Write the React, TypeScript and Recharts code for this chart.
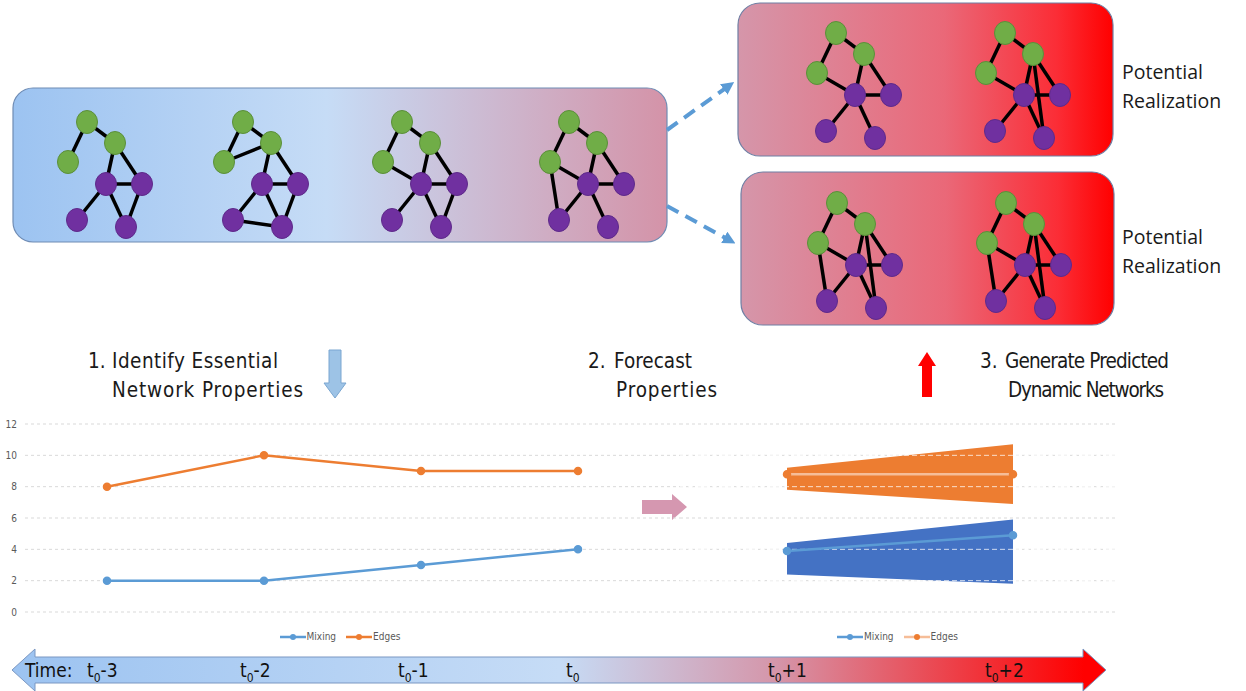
import {
  Area,
  CartesianGrid,
  ComposedChart,
  Legend,
  Line,
  LineChart,
  ReferenceLine,
  Scatter,
  ScatterChart,
  XAxis,
  YAxis,
} from 'recharts'

// observed history
const periods = ['t0-3', 't0-2', 't0-1', 't0']
const mixing = [2, 2, 3, 4]
const edges = [8, 10, 9, 9]

// forecast (t0+1, t0+2)
const forecastSteps = [0, 1]
const mixingForecast = [3.9, 4.9]
const mixingLow = [2.4, 1.8]
const mixingHigh = [4.4, 5.9]
const edgesForecast = [8.8, 8.8]
const edgesLow = [7.8, 6.9]
const edgesHigh = [9.2, 10.7]

const yTicks = [0, 2, 4, 6, 8, 10, 12]

// network drawings: node layout (g = green, p = purple) and edge lists
const nodeX = [19, 47, 0, 38, 74, 9, 58]
const nodeY = [0, 21, 40, 62, 62, 98, 105]
const nodeKind = ['g', 'g', 'g', 'p', 'p', 'p', 'p']

const edges1 = [[0, 1], [0, 2], [1, 3], [1, 4], [3, 4], [3, 5], [3, 6], [4, 6]]
const edges2 = [[0, 1], [0, 2], [2, 1], [1, 3], [1, 4], [3, 4], [3, 5], [3, 6], [4, 6], [5, 6]]
const edges3 = [[0, 1], [0, 2], [2, 3], [1, 3], [1, 4], [3, 4], [3, 5], [3, 6], [4, 6]]
const edges4 = [[0, 1], [0, 2], [2, 3], [2, 5], [1, 3], [1, 4], [3, 4], [3, 5], [3, 6]]
const edgesA = [[0, 1], [0, 2], [2, 3], [1, 3], [1, 4], [3, 4], [3, 5], [3, 6]]
const edgesB = [[0, 1], [0, 2], [2, 3], [1, 3], [1, 4], [1, 6], [3, 4], [3, 5], [3, 6]]
const edgesC = [[0, 1], [0, 2], [2, 3], [2, 5], [1, 3], [1, 4], [1, 6], [3, 4], [3, 5], [3, 6]]

const networks = [
  { left: 68, top: 122, edges: edges1 },
  { left: 224, top: 122, edges: edges2 },
  { left: 383, top: 122, edges: edges3 },
  { left: 550, top: 122, edges: edges4 },
  { left: 817, top: 33, edges: edgesA },
  { left: 986, top: 33, edges: edgesB },
  { left: 818, top: 203, edges: edgesC },
  { left: 987, top: 203, edges: edgesC },
]

const timeLabels = [
  { base: 't', sub: '0', rest: '-3', x: 87 },
  { base: 't', sub: '0', rest: '-2', x: 240 },
  { base: 't', sub: '0', rest: '-1', x: 398 },
  { base: 't', sub: '0', rest: '', x: 566 },
  { base: 't', sub: '0', rest: '+1', x: 768 },
  { base: 't', sub: '0', rest: '+2', x: 985 },
]

const BLUE = '#5b9bd5'
const ORANGE = '#ed7d31'
const LIGHT_ORANGE = '#f6bd98'
const DARK_BLUE = '#4472c4'
const TEXT_FONT = '"Liberation Sans Narrow", "DejaVu Sans Condensed", "Noto Sans", sans-serif'
const LABEL_FONT = '"Open Sans", "Noto Sans", sans-serif'

const histData = periods.map((p, i) => ({ period: p, mixing: mixing[i], edges: edges[i] }))
const fcData = forecastSteps.map((s, i) => ({
  step: s,
  mixing: mixingForecast[i],
  edges: edgesForecast[i],
  mixBand: [mixingLow[i], mixingHigh[i]],
  edgeBand: [edgesLow[i], edgesHigh[i]],
}))

function LegendItems({ items }: { items: { label: string; line: string; dot: string }[] }) {
  return (
    <div
      style={{
        display: 'flex',
        justifyContent: 'center',
        gap: 10,
        paddingTop: 19,
        fontSize: 10,
        color: '#595959',
        fontFamily: TEXT_FONT,
      }}
    >
      {items.map((it) => (
        <span key={it.label} style={{ display: 'flex', alignItems: 'center', gap: 1 }}>
          <svg width={26} height={8}>
            <line x1={0} y1={4} x2={26} y2={4} stroke={it.line} strokeWidth={2.5} />
            <circle cx={13} cy={4} r={3} fill={it.dot} />
          </svg>
          {it.label}
        </span>
      ))}
    </div>
  )
}

function Network({ left, top, edges }: { left: number; top: number; edges: number[][] }) {
  const nodes = nodeX.map((x, i) => ({ x, y: nodeY[i], kind: nodeKind[i] }))
  return (
    <div style={{ position: 'absolute', left: left - 15, top: top - 15 }}>
      <ScatterChart width={110} height={135} margin={{ top: 0, right: 0, bottom: 0, left: 0 }}>
        <XAxis type="number" dataKey="x" domain={[-15, 95]} hide />
        <YAxis type="number" dataKey="y" domain={[-15, 120]} reversed hide />
        {edges.map(([a, b], i) => (
          <Scatter
            key={i}
            data={[nodes[a], nodes[b]]}
            line={{ stroke: '#000', strokeWidth: 3.5 }}
            shape={() => <g />}
            isAnimationActive={false}
          />
        ))}
        <Scatter
          data={nodes}
          isAnimationActive={false}
          shape={(props: any) => (
            <ellipse
              cx={props.cx}
              cy={props.cy}
              rx={10.5}
              ry={11.5}
              fill={props.payload.kind === 'g' ? '#70ad47' : '#7030a0'}
              stroke={props.payload.kind === 'g' ? '#5b8f3a' : '#5e2a8a'}
              strokeWidth={1}
            />
          )}
        />
      </ScatterChart>
    </div>
  )
}

export default function App() {
  return (
    <div style={{ position: 'absolute', left: 0, top: 0, width: 1246, height: 691, background: '#fff', overflow: 'hidden' }}>
      <svg width={1246} height={691} style={{ position: 'absolute', left: 0, top: 0 }}>
        <defs>
          <linearGradient id="histGrad" x1="0" x2="1" y1="0" y2="0">
            <stop offset="0" stopColor="#9cc3f1" />
            <stop offset="0.48" stopColor="#c6dcf6" />
            <stop offset="1" stopColor="#d493a8" />
          </linearGradient>
          <linearGradient id="futGrad" x1="0" x2="1" y1="0" y2="0">
            <stop offset="0" stopColor="#d596aa" />
            <stop offset="0.55" stopColor="#ea6878" />
            <stop offset="0.85" stopColor="#fb2d36" />
            <stop offset="1" stopColor="#ff0000" />
          </linearGradient>
          <linearGradient id="timeGrad" x1="0" x2="1" y1="0" y2="0">
            <stop offset="0" stopColor="#9cc3f1" />
            <stop offset="0.5" stopColor="#c6dcf6" />
            <stop offset="0.7" stopColor="#d595a9" />
            <stop offset="0.98" stopColor="#ff0000" />
          </linearGradient>
          <marker id="ah" viewBox="0 0 10 10" refX="6" refY="5" markerWidth="3.2" markerHeight="3.2" orient="auto">
            <path d="M0,0 L10,5 L0,10 z" fill={BLUE} />
          </marker>
        </defs>

        <rect x={13} y={88} width={654} height={154} rx={20} fill="url(#histGrad)" stroke="#6f8cb4" strokeWidth={1.2} />
        <rect x={738} y={3} width={375} height={153} rx={22} fill="url(#futGrad)" stroke="#6f7fa4" strokeWidth={1.2} />
        <rect x={741} y={172} width={373} height={153} rx={22} fill="url(#futGrad)" stroke="#6f7fa4" strokeWidth={1.2} />

        <line x1={667} y1={130} x2={730} y2={85} stroke={BLUE} strokeWidth={4} strokeDasharray="13 8" markerEnd="url(#ah)" />
        <line x1={667} y1={206} x2={731} y2={241} stroke={BLUE} strokeWidth={4} strokeDasharray="13 8" markerEnd="url(#ah)" />

        {/* step arrows */}
        <path d="M329,350 L341,350 L341,383 L346,383 L335,398 L324,383 L329,383 Z" fill="#9dc3e6" stroke="#7aa6d1" strokeWidth={1} />
        <path d="M927,352 L936,366 L932,366 L932,397 L922,397 L922,366 L918,366 Z" fill="#ff0000" />
        <path d="M642,500 L672,500 L672,494 L687,507 L672,520 L672,514 L642,514 Z" fill="#d597b0" />

        <g fontFamily={TEXT_FONT} fontSize={20.5} fill="#1a1a1a">
          <text x={88} y={368}>1.</text>
          <text x={112} y={368} textLength={166}>Identify Essential</text>
          <text x={112} y={397} textLength={191}>Network Properties</text>
          <text x={588} y={368}>2.</text>
          <text x={614} y={368} textLength={78}>Forecast</text>
          <text x={616} y={397} textLength={101}>Properties</text>
          <text x={980} y={368}>3.</text>
          <text x={1005} y={368} textLength={164}>Generate Predicted</text>
          <text x={1008} y={397} textLength={156}>Dynamic Networks</text>
        </g>

        <g fontFamily={LABEL_FONT} fontSize={19.5} fill="#1a1a1a">
          <text x={1122} y={79}>Potential</text>
          <text x={1122} y={108}>Realization</text>
          <text x={1122} y={244}>Potential</text>
          <text x={1122} y={273}>Realization</text>
        </g>

        {/* time axis */}
        <path
          d="M12,670 L35,649 L35,657 L1083,657 L1083,649 L1106,670 L1083,691 L1083,683 L35,683 L35,691 Z"
          fill="url(#timeGrad)"
          stroke="#7b97c2"
          strokeWidth={1}
        />
        <g fontFamily={TEXT_FONT} fontSize={19} fill="#111">
          <text x={25} y={677}>Time:</text>
          {timeLabels.map((t) => (
            <text key={t.x} x={t.x} y={677}>
              {t.base}
              <tspan fontSize={12} dy={5}>{t.sub}</tspan>
              <tspan dy={-5}>{t.rest}</tspan>
            </text>
          ))}
        </g>
      </svg>

      {networks.map((n, i) => (
        <Network key={i} left={n.left} top={n.top} edges={n.edges} />
      ))}

      <div style={{ position: 'absolute', left: 0, top: 410 }}>
        <LineChart width={680} height={240} data={histData} margin={{ top: 14, right: 0, bottom: 0, left: 0 }}>
          <CartesianGrid vertical={false} stroke="#d9d9d9" strokeDasharray="3 3" />
          <XAxis dataKey="period" hide padding={{ left: 82, right: 102 }} />
          <YAxis
            width={25}
            domain={[0, 12]}
            ticks={yTicks}
            axisLine={false}
            tickLine={false}
            tick={{ fontSize: 10, fill: '#595959', fontFamily: TEXT_FONT }}
          />
          <Legend
            verticalAlign="bottom"
            height={38}
            content={() => (
              <LegendItems
                items={[
                  { label: 'Mixing', line: BLUE, dot: BLUE },
                  { label: 'Edges', line: ORANGE, dot: ORANGE },
                ]}
              />
            )}
          />
          <Line dataKey="mixing" stroke={BLUE} strokeWidth={2.5} dot={{ r: 3, fill: BLUE, stroke: BLUE }} isAnimationActive={false} />
          <Line dataKey="edges" stroke={ORANGE} strokeWidth={2.5} dot={{ r: 3, fill: ORANGE, stroke: ORANGE }} isAnimationActive={false} />
        </LineChart>
      </div>

      <div style={{ position: 'absolute', left: 655, top: 410 }}>
        <ComposedChart width={460} height={240} data={fcData} margin={{ top: 14, right: 0, bottom: 0, left: 25 }}>
          <CartesianGrid vertical={false} stroke="#d9d9d9" strokeDasharray="3 3" />
          <XAxis type="number" dataKey="step" domain={[0, 1]} hide padding={{ left: 107, right: 102 }} />
          <YAxis domain={[0, 12]} ticks={yTicks} hide />
          <Legend
            verticalAlign="bottom"
            height={38}
            content={() => (
              <LegendItems
                items={[
                  { label: 'Mixing', line: BLUE, dot: BLUE },
                  { label: 'Edges', line: LIGHT_ORANGE, dot: ORANGE },
                ]}
              />
            )}
          />
          <Area type="linear" dataKey="edgeBand" fill={ORANGE} fillOpacity={1} stroke="none" isAnimationActive={false} />
          <Area type="linear" dataKey="mixBand" fill={DARK_BLUE} fillOpacity={1} stroke="none" isAnimationActive={false} />
          {[2, 4, 8, 10].map((v) => (
            <ReferenceLine key={v} y={v} stroke="#ffffff" strokeOpacity={0.75} strokeDasharray="5 3" />
          ))}
          <Line dataKey="edges" stroke={LIGHT_ORANGE} strokeWidth={2.5} dot={{ r: 3, fill: ORANGE, stroke: ORANGE }} isAnimationActive={false} />
          <Line dataKey="mixing" stroke={BLUE} strokeWidth={2.5} dot={{ r: 3, fill: BLUE, stroke: BLUE }} isAnimationActive={false} />
        </ComposedChart>
      </div>
    </div>
  )
}
